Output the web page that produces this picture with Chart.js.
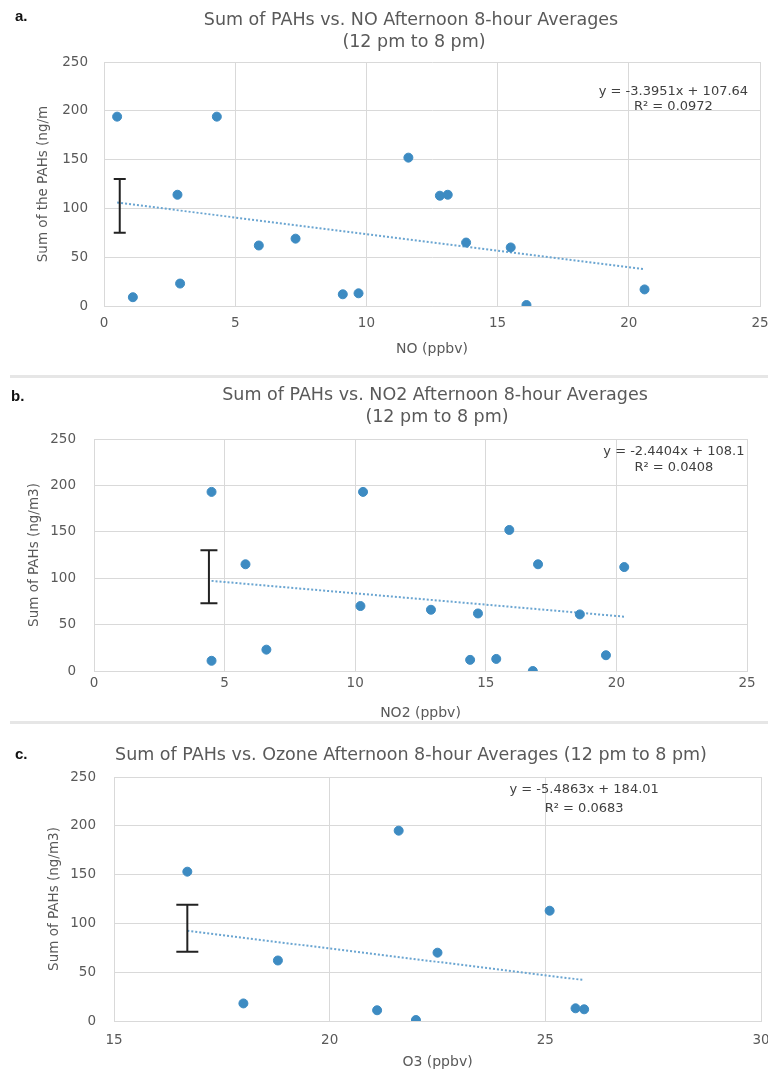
<!DOCTYPE html>
<html>
<head>
<meta charset="utf-8">
<script src="https://cdn.jsdelivr.net/npm/chart.js@4.4.1/dist/chart.umd.min.js"></script>
<style>
  body { margin: 0; background: #fff; width: 768px; height: 1075px; overflow: hidden; position: relative; }
  .panel { position: absolute; left: 0; width: 768px; }
  .sep { position: absolute; left: 10px; right: 0; height: 3px; background: #e6e6e6; }
</style>
</head>
<body>
<div class="panel" style="top:0;height:372px"><canvas id="chartA"></canvas></div>
<div class="sep" style="top:375px"></div>
<div class="panel" style="top:380px;height:342px"><canvas id="chartB"></canvas></div>
<div class="sep" style="top:721px"></div>
<div class="panel" style="top:726px;height:349px"><canvas id="chartC"></canvas></div>
<script>
// panel a: NO
const noX = [0.5, 4.3, 11.6, 2.8, 12.8, 13.1, 5.9, 7.3, 13.8, 15.5, 2.9, 1.1, 9.1, 9.7, 16.1, 20.6];
const noPAH = [194, 194, 152, 114, 113, 114, 62, 69, 65, 60, 23, 9, 12, 13, 1, 17];
const noFit = [-3.3951, 107.64, 0.0972];      // slope, intercept, R²
const noErr = [0.6, 75, 130];                 // x, low, high

// panel b: NO2
const no2X = [4.5, 10.3, 15.9, 5.8, 17.0, 20.3, 10.2, 12.9, 14.7, 18.6, 4.5, 6.6, 14.4, 15.4, 16.8, 19.6];
const no2PAH = [193, 193, 152, 115, 115, 112, 70, 66, 62, 61, 11, 23, 12, 13, 0, 17];
const no2Fit = [-2.4404, 108.1, 0.0408];
const no2Err = [4.4, 73, 130];

// panel c: ozone
const o3X = [16.7, 21.6, 25.1, 18.8, 22.5, 18.0, 21.1, 22.0, 25.7, 25.9];
const o3PAH = [153, 195, 113, 62, 70, 18, 11, 1, 13, 12];
const o3Fit = [-5.4863, 184.01, 0.0683];
const o3Err = [16.7, 71, 119];

const FONT = '"DejaVu Sans", sans-serif';
const GREY = '#595959';

const decor = {
    id: 'decor',
    afterDraw(chart, args, o) {
        const ctx = chart.ctx, xs = chart.scales.x, ys = chart.scales.y;
        ctx.save();
        // error bar
        const ex = xs.getPixelForValue(o.err[0]);
        const lo = ys.getPixelForValue(o.err[1]), hi = ys.getPixelForValue(o.err[2]);
        ctx.strokeStyle = '#222';
        ctx.lineWidth = 2;
        ctx.beginPath();
        ctx.moveTo(ex, lo); ctx.lineTo(ex, hi);
        ctx.moveTo(ex - o.cap, lo); ctx.lineTo(ex + o.cap, lo);
        ctx.moveTo(ex - o.cap, hi); ctx.lineTo(ex + o.cap, hi);
        ctx.stroke();
        // trendline equation
        ctx.fillStyle = '#404040';
        ctx.font = '13px ' + FONT;
        ctx.textAlign = 'center';
        ctx.textBaseline = 'middle';
        const eq = ['y = ' + o.fit[0] + 'x + ' + o.fit[1], 'R\u00b2 = ' + o.fit[2]];
        const eqx = xs.getPixelForValue(o.eqAt[0]);
        ctx.fillText(eq[0], eqx, ys.getPixelForValue(o.eqAt[1]));
        ctx.fillText(eq[1], eqx, ys.getPixelForValue(o.eqAt[2]));
        // title
        ctx.fillStyle = GREY;
        ctx.font = '17.5px ' + FONT;
        o.title.forEach(t => ctx.fillText(t[0], t[1], t[2]));
        // panel letter
        ctx.fillStyle = '#111';
        ctx.font = 'bold 15px "Liberation Sans", sans-serif';
        ctx.textAlign = 'left';
        ctx.fillText(o.letter[0], o.letter[1], o.letter[2]);
        ctx.restore();
    }
};

function makePanel(id, xs, ys, fit, err, p) {
    const x0 = Math.min(...xs), x1 = Math.max(...xs);
    return new Chart(document.getElementById(id), {
        type: 'scatter',
        data: {
            datasets: [{
                data: xs.map((x, i) => ({x: x, y: ys[i]})),
                backgroundColor: '#3d8bc2',
                borderColor: '#3d8bc2',
                pointRadius: 4.5,
                order: 1
            }, {
                type: 'line',
                data: [{x: x0, y: fit[0] * x0 + fit[1]}, {x: x1, y: fit[0] * x1 + fit[1]}],
                borderColor: '#6aa5d1',
                borderWidth: 2,
                borderDash: [2, 2],
                pointRadius: 0,
                fill: false,
                order: 2
            }]
        },
        options: {
            responsive: true,
            maintainAspectRatio: false,
            animation: false,
            layout: { padding: { top: p.top, right: p.right, left: 0, bottom: 0 } },
            plugins: {
                legend: { display: false },
                tooltip: { enabled: false },
                decor: { err: err, fit: fit, cap: p.cap, eqAt: p.eqAt, title: p.title, letter: p.letter }
            },
            scales: {
                x: {
                    type: 'linear', min: p.xmin, max: p.xmax,
                    ticks: { stepSize: 5, color: GREY, font: { family: FONT, size: 13.5 }, padding: p.xtp },
                    grid: { color: '#d9d9d9', drawTicks: false },
                    border: { color: '#d9d9d9' },
                    title: { display: true, text: p.xtitle, color: GREY, font: { family: FONT, size: 14 }, padding: { top: 0, bottom: p.xtb } },
                    afterFit: s => { s.height = p.xh; s.paddingRight = 0; s.paddingLeft = 0; }
                },
                y: {
                    min: 0, max: 250,
                    ticks: { stepSize: 50, color: GREY, font: { family: FONT, size: 13.5 }, padding: p.ytp },
                    grid: { color: '#d9d9d9', drawTicks: false },
                    border: { color: '#d9d9d9' },
                    title: { display: true, text: p.ytitle, color: GREY, font: { family: FONT, size: 13.5 }, padding: { top: p.ytt, bottom: 0 } },
                    afterFit: s => { s.width = p.yw; s.paddingTop = 0; s.paddingBottom = 0; }
                }
            }
        },
        plugins: [decor]
    });
}

makePanel('chartA', noX, noPAH, noFit, noErr, {
    top: 62, right: 8, yw: 104, xh: 66, xmin: 0, xmax: 25, xtp: 9, xtb: 14, ytp: 16, ytt: 35,
    xtitle: 'NO (ppbv)', ytitle: 'Sum of the PAHs (ng/m', cap: 6,
    eqAt: [21.7, 220, 204],
    title: [['Sum of PAHs vs. NO Afternoon 8-hour Averages', 411, 20], ['(12 pm to 8 pm)', 414, 42]],
    letter: ['a.', 15, 17]
});

makePanel('chartB', no2X, no2PAH, no2Fit, no2Err, {
    top: 59, right: 21, yw: 94, xh: 51, xmin: 0, xmax: 25, xtp: 4, xtb: 0, ytp: 18, ytt: 26,
    xtitle: 'NO2 (ppbv)', ytitle: 'Sum of PAHs (ng/m3)', cap: 8.5,
    eqAt: [22.2, 236, 219],
    title: [['Sum of PAHs vs. NO2 Afternoon 8-hour Averages', 435, 15], ['(12 pm to 8 pm)', 437, 37]],
    letter: ['b.', 11, 17]
});

makePanel('chartC', o3X, o3PAH, o3Fit, o3Err, {
    top: 51, right: 7, yw: 114, xh: 54, xmin: 15, xmax: 30, xtp: 11, xtb: 4, ytp: 18, ytt: 46,
    xtitle: 'O3 (ppbv)', ytitle: 'Sum of PAHs (ng/m3)', cap: 11,
    eqAt: [25.9, 237, 218],
    title: [['Sum of PAHs vs. Ozone Afternoon 8-hour Averages (12 pm to 8 pm)', 411, 29]],
    letter: ['c.', 15, 29]
});
</script>
</body>
</html>
